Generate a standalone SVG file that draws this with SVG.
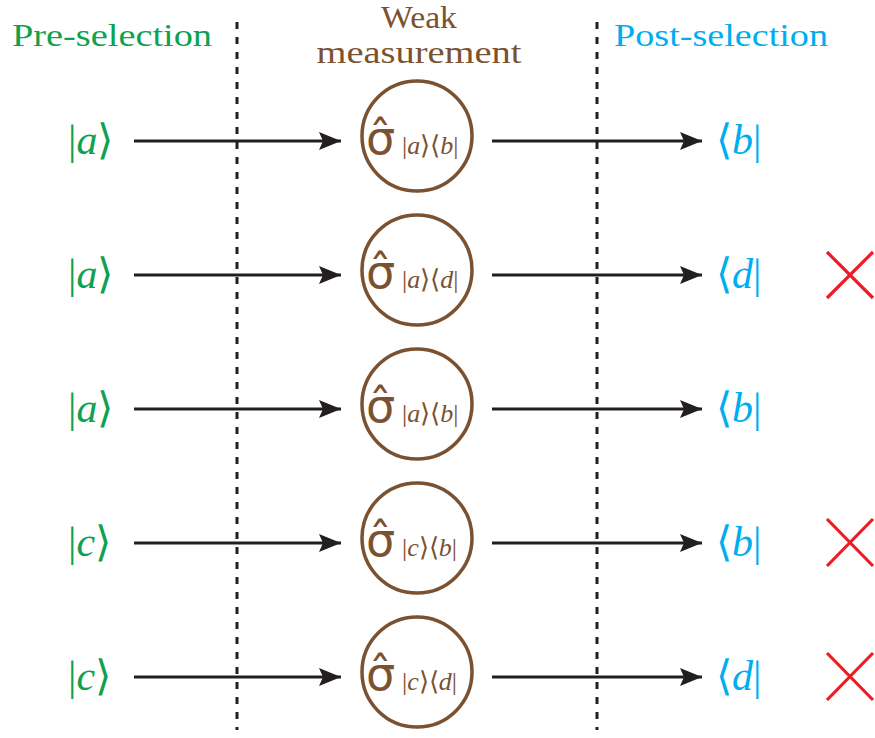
<svg xmlns="http://www.w3.org/2000/svg" width="875" height="738" viewBox="0 0 875 738">
<style>
.title{font-family:"Liberation Serif","Times New Roman",serif;font-size:31px}
.pre{fill:#0FA14E}
.post{fill:#00AEEF}
.brown{fill:#7B5231}
.ket{font-family:"Liberation Serif",serif;font-size:42px}
.it{font-style:italic}
.br{font-family:"DejaVu Sans",sans-serif;font-weight:200}
.circ{fill:none;stroke:#7B5231;stroke-width:3.5}
.sig{font-family:"DejaVu Sans",sans-serif;font-size:46px;fill:#7B5231}
.sub{font-family:"Liberation Serif",serif;font-size:26px;fill:#7B5231}
.arrow{stroke:#231F20;stroke-width:3;fill:none}
.dot{stroke:#231F20;stroke-width:3;stroke-dasharray:7 8}
.x{stroke:#ED1C24;stroke-width:3.2}
</style>
<defs>
<marker id="ah" markerUnits="userSpaceOnUse" markerWidth="24" markerHeight="20" refX="22" refY="9" orient="auto">
<path d="M0,0 L22,9 L0,18 L4,9 Z" fill="#231F20"/>
</marker>
</defs>
<g id="titles">
<text class="title pre" x="12" y="46" textLength="200" lengthAdjust="spacingAndGlyphs">Pre-selection</text>
<text class="title brown" x="419" y="28" text-anchor="middle" textLength="76" lengthAdjust="spacingAndGlyphs">Weak</text>
<text class="title brown" x="419" y="63" text-anchor="middle" textLength="205" lengthAdjust="spacingAndGlyphs">measurement</text>
<text class="title post" x="614" y="46" textLength="214" lengthAdjust="spacingAndGlyphs">Post-selection</text>
</g>
<g id="separators">
<line class="dot" x1="237" y1="22" x2="237" y2="730"/>
<line class="dot" x1="597" y1="22" x2="597" y2="730"/>
</g>
<g id="connectors">
<line class="arrow" x1="134" y1="141" x2="341" y2="141" marker-end="url(#ah)"/>
<line class="arrow" x1="492" y1="141" x2="702" y2="141" marker-end="url(#ah)"/>
<line class="arrow" x1="134" y1="275" x2="341" y2="275" marker-end="url(#ah)"/>
<line class="arrow" x1="492" y1="275" x2="702" y2="275" marker-end="url(#ah)"/>
<line class="arrow" x1="134" y1="409" x2="341" y2="409" marker-end="url(#ah)"/>
<line class="arrow" x1="492" y1="409" x2="702" y2="409" marker-end="url(#ah)"/>
<line class="arrow" x1="134" y1="543" x2="341" y2="543" marker-end="url(#ah)"/>
<line class="arrow" x1="492" y1="543" x2="702" y2="543" marker-end="url(#ah)"/>
<line class="arrow" x1="134" y1="677" x2="341" y2="677" marker-end="url(#ah)"/>
<line class="arrow" x1="492" y1="677" x2="702" y2="677" marker-end="url(#ah)"/>
</g>
<g id="pre1"><text class="ket pre" x="68" y="154">|<tspan class="it">a</tspan><tspan class="br">⟩</tspan></text></g>
<g id="pre2"><text class="ket pre" x="68" y="288">|<tspan class="it">a</tspan><tspan class="br">⟩</tspan></text></g>
<g id="pre3"><text class="ket pre" x="68" y="422">|<tspan class="it">a</tspan><tspan class="br">⟩</tspan></text></g>
<g id="pre4"><text class="ket pre" x="68" y="556">|<tspan class="it">c</tspan><tspan class="br">⟩</tspan></text></g>
<g id="pre5"><text class="ket pre" x="68" y="690">|<tspan class="it">c</tspan><tspan class="br">⟩</tspan></text></g>

<g id="wm1"><circle class="circ" cx="417" cy="136" r="55"/><text class="sig" x="366" y="154">σ̂</text><text class="sub" x="402" y="154">|<tspan class="it">a</tspan>⟩⟨<tspan class="it">b</tspan>|</text></g>
<g id="wm2"><circle class="circ" cx="417" cy="270" r="55"/><text class="sig" x="366" y="288">σ̂</text><text class="sub" x="402" y="288">|<tspan class="it">a</tspan>⟩⟨<tspan class="it">d</tspan>|</text></g>
<g id="wm3"><circle class="circ" cx="417" cy="404" r="55"/><text class="sig" x="366" y="422">σ̂</text><text class="sub" x="402" y="422">|<tspan class="it">a</tspan>⟩⟨<tspan class="it">b</tspan>|</text></g>
<g id="wm4"><circle class="circ" cx="417" cy="538" r="55"/><text class="sig" x="366" y="556">σ̂</text><text class="sub" x="402" y="556">|<tspan class="it">c</tspan>⟩⟨<tspan class="it">b</tspan>|</text></g>
<g id="wm5"><circle class="circ" cx="417" cy="672" r="55"/><text class="sig" x="366" y="690">σ̂</text><text class="sub" x="402" y="690">|<tspan class="it">c</tspan>⟩⟨<tspan class="it">d</tspan>|</text></g>

<g id="post1"><text class="ket post" x="716" y="154"><tspan class="br">⟨</tspan><tspan class="it">b</tspan>|</text></g>
<g id="post2"><text class="ket post" x="716" y="288"><tspan class="br">⟨</tspan><tspan class="it">d</tspan>|</text></g>
<g id="post3"><text class="ket post" x="716" y="422"><tspan class="br">⟨</tspan><tspan class="it">b</tspan>|</text></g>
<g id="post4"><text class="ket post" x="716" y="556"><tspan class="br">⟨</tspan><tspan class="it">b</tspan>|</text></g>
<g id="post5"><text class="ket post" x="716" y="690"><tspan class="br">⟨</tspan><tspan class="it">d</tspan>|</text></g>

<g id="reject2"><line class="x" x1="827" y1="252" x2="873" y2="298"/><line class="x" x1="827" y1="298" x2="873" y2="252"/></g>
<g id="reject4"><line class="x" x1="827" y1="519" x2="873" y2="566"/><line class="x" x1="827" y1="566" x2="873" y2="519"/></g>
<g id="reject5"><line class="x" x1="827" y1="653" x2="873" y2="700"/><line class="x" x1="827" y1="700" x2="873" y2="653"/></g>
</svg>
